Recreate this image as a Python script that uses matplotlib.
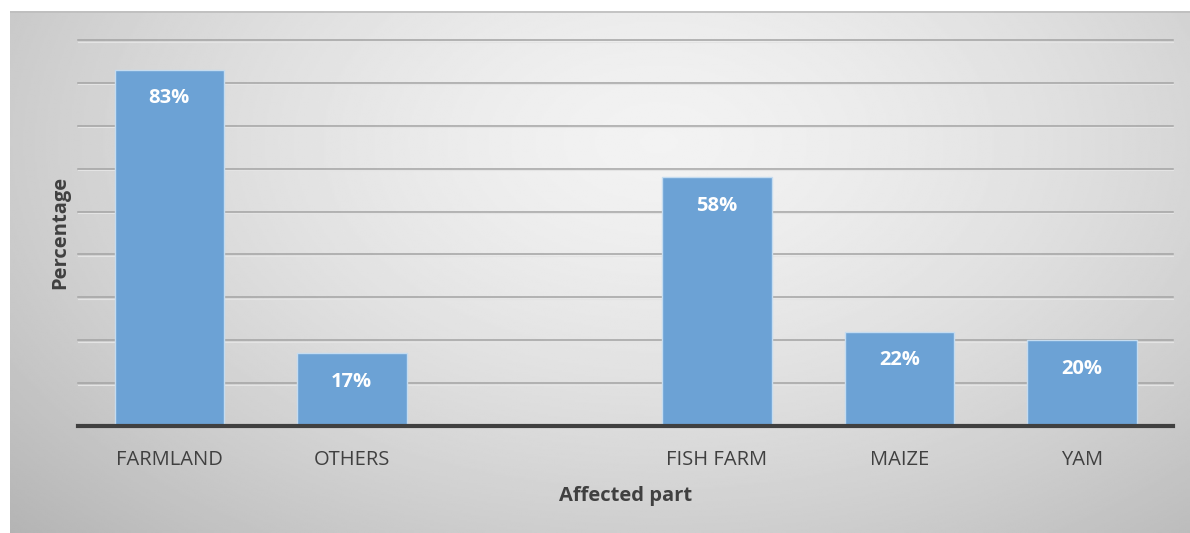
import numpy as np
import matplotlib
matplotlib.use("Agg")
import matplotlib.pyplot as plt

categories = ["FARMLAND", "OTHERS", "", "FISH FARM", "MAIZE", "YAM"]
values = [83, 17, None, 58, 22, 20]
value_labels = ["83%", "17%", "", "58%", "22%", "20%"]
y_ticks = list(range(0, 100, 10))

W, H = 1190, 533
fig = plt.figure(figsize=(W / 100, H / 100), dpi=100)
fig.patch.set_facecolor("white")

FONT = ["Open Sans", "DejaVu Sans"]

# chart-area background: soft radial grey gradient
bg = fig.add_axes([10 / W, 0, 1180 / W, (H - 11) / H])
bg.set_axis_off()
gx = np.linspace(-1, 1, 600)
gy = np.linspace(-1, 1, 300)
X, Y = np.meshgrid(gx, gy)
cx, cy = 0.1, -0.5
r = np.sqrt(((X - cx) / 1.2) ** 2 + ((Y - cy) / 1.7) ** 2)
shade = 0.95 - 0.17 * np.clip(r, 0, 1.3) ** 1.5
bg.imshow(shade, cmap="gray", vmin=0, vmax=1, aspect="auto",
          extent=[0, 1, 0, 1], origin="upper", interpolation="bilinear")
bg.set_xlim(0, 1)
bg.set_ylim(0, 1)
bg.plot([0, 1], [0.999, 0.999], color="#bdbdbd", lw=1.2)

ax_left, ax_right = 78 / W, 1173 / W
ax_bottom, ax_top = (H - 426) / H, (H - 40) / H
ax = fig.add_axes([ax_left, ax_bottom, ax_right - ax_left, ax_top - ax_bottom])
ax.patch.set_alpha(0)
ax.set_xlim(-0.5, len(categories) - 0.5)
ax.set_ylim(0, 90)

# horizontal gridlines with a faint light edge underneath
for t in y_ticks[1:]:
    ax.axhline(t, color="#a3a3a3", lw=1.1, zorder=1, clip_on=False)
    ax.axhline(t - 0.35, color="#e4e4e4", lw=0.8, zorder=1, clip_on=False)

x = np.arange(len(categories))
for xi, v, lab in zip(x, values, value_labels):
    if v is None:
        continue
    ax.bar(xi, v, width=0.6, color="#6ca2d5", edgecolor="#c5dcf0",
           linewidth=1.0, zorder=2)
    ax.annotate(lab, (xi, v), xytext=(0, -20.5), textcoords="offset points",
                ha="center", va="center", color="white", fontsize=14.5,
                fontweight="bold", family=FONT, zorder=3)

ax.axhline(0, color="#404040", lw=3, zorder=4, clip_on=False)

for s in ax.spines.values():
    s.set_visible(False)
ax.set_yticks([])
ax.set_xticks(x)
ax.set_xticklabels(categories, family=FONT, fontsize=14.5, color="#404040")
ax.tick_params(axis="x", length=0, pad=17)

ax.set_xlabel("Affected part", family=FONT, fontsize=14.5, fontweight="bold",
              color="#404040", labelpad=12)
fig.text(60 / W, 1 - 232 / H, "Percentage", rotation=90, ha="center",
         va="center", family=FONT, fontsize=14.5, fontweight="bold",
         color="#404040")

fig.savefig("out.png", dpi=100, facecolor="white")
